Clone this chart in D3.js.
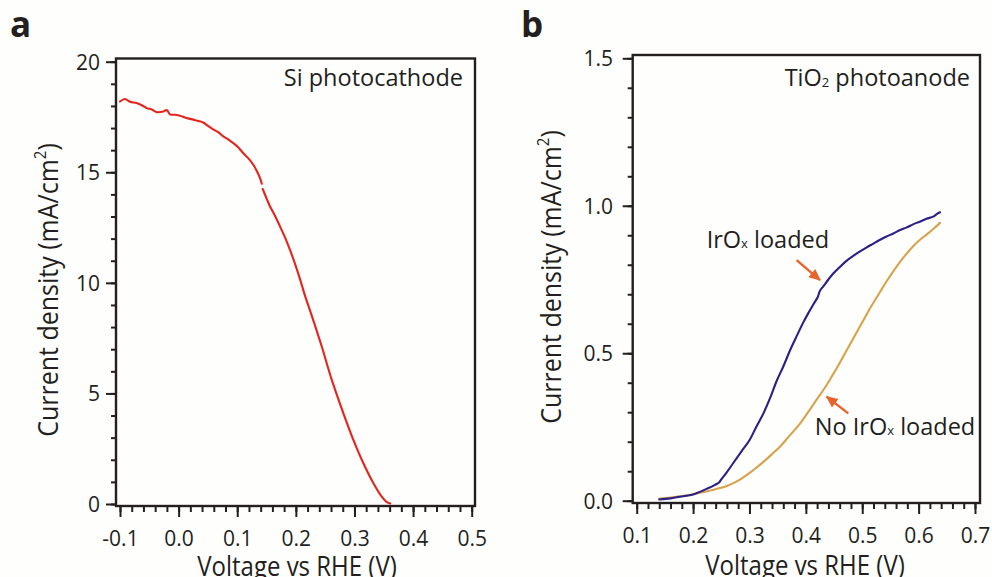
<!DOCTYPE html>
<html>
<head>
<meta charset="utf-8">
<script src="https://cdn.jsdelivr.net/npm/d3@7"></script>
<style>
  html, body { margin: 0; padding: 0; background: #fefefc; }
  svg { display: block; }
  text { font-family: "Open Sans", "Noto Sans", sans-serif; fill: #231f20; }
</style>
</head>
<body>
<svg id="chart" width="992" height="577"></svg>
<script>
// ---------------- DATA ----------------
// Panel a: Si photocathode, [voltage (V vs RHE), current density (mA/cm2)]; null = gap in trace
const siVoltage = [-0.100, -0.0915, -0.083, -0.0715, -0.062, -0.0544, -0.046, -0.0374, -0.026, -0.0203, -0.0147,
  -0.006, 0.0024, 0.012, 0.025, 0.034, 0.042, 0.050, 0.059, 0.068, 0.0763, 0.085, 0.0933, 0.102, 0.110, 0.119,
  0.1275, 0.134, 0.139, 0.1418, null, 0.1435, 0.150, 0.156, 0.165, 0.173, 0.182, 0.190, 0.197, 0.2072, 0.2157,
  0.2271, 0.2442, 0.2613, 0.2811, 0.2981, 0.3152, 0.3323, 0.3466, 0.3540, 0.3608];
const siCurrent = [18.20, 18.31, 18.19, 18.13, 18.02, 17.90, 17.84, 17.72, 17.75, 17.81, 17.62,
  17.60, 17.56, 17.47, 17.38, 17.32, 17.25, 17.10, 16.94, 16.80, 16.62, 16.48, 16.32, 16.12, 15.87, 15.63,
  15.34, 15.02, 14.72, 14.48, null, 14.24, 13.82, 13.45, 13.00, 12.55, 12.02, 11.49, 10.98, 10.16, 9.41,
  8.52, 7.12, 5.61, 4.10, 2.90, 1.84, 0.94, 0.33, 0.11, 0.02];

// Panel b: TiO2 photoanode
const irVoltage = [0.140, 0.160, 0.180, 0.200, 0.212, 0.225, 0.238, 0.246, 0.250, 0.260, 0.271, 0.285, 0.300,
  0.312, 0.325, 0.337, 0.348, 0.360, 0.372, 0.385, 0.395, 0.405, 0.414, 0.421, 0.425, 0.431, 0.440, 0.449,
  0.460, 0.472, 0.484, 0.496, 0.508, 0.519, 0.530, 0.542, 0.555, 0.567, 0.578, 0.590, 0.602, 0.614, 0.626,
  0.632, 0.638];
const irCurrent = [0.004, 0.008, 0.014, 0.021, 0.030, 0.041, 0.053, 0.062, 0.072, 0.097, 0.127, 0.165, 0.205,
  0.250, 0.297, 0.350, 0.405, 0.455, 0.510, 0.563, 0.603, 0.638, 0.668, 0.690, 0.712, 0.727, 0.750, 0.771,
  0.792, 0.813, 0.830, 0.845, 0.859, 0.871, 0.883, 0.895, 0.906, 0.918, 0.926, 0.937, 0.946, 0.956, 0.963,
  0.972, 0.978];

const noIrVoltage = [0.140, 0.160, 0.180, 0.200, 0.212, 0.225, 0.240, 0.260, 0.280, 0.307, 0.320, 0.340, 0.354,
  0.370, 0.390, 0.405, 0.420, 0.432, 0.445, 0.458, 0.470, 0.485, 0.500, 0.515, 0.531, 0.545, 0.560, 0.575,
  0.590, 0.602, 0.614, 0.626, 0.638];
const noIrCurrent = [0.007, 0.011, 0.016, 0.022, 0.027, 0.032, 0.039, 0.050, 0.068, 0.104, 0.124, 0.158, 0.183,
  0.218, 0.262, 0.303, 0.345, 0.378, 0.418, 0.460, 0.502, 0.553, 0.605, 0.656, 0.706, 0.749, 0.791, 0.829,
  0.862, 0.884, 0.902, 0.921, 0.942];

// Tick labels
const aXTicks = [-0.1, 0.0, 0.1, 0.2, 0.3, 0.4, 0.5];
const aYTicks = [0, 5, 10, 15, 20];
const bXTicks = [0.1, 0.2, 0.3, 0.4, 0.5, 0.6, 0.7];
const bYTicks = [0.0, 0.5, 1.0, 1.5];

// Text
const aTitle = "Si photocathode";
const xTitle = "Voltage vs RHE (V)";
const yTitleMain = "Current density (mA/cm";

// ---------------- DRAW ----------------
const svg = d3.select("#chart");
const ink = "#231f20";

function seriesPoints(xs, ys) {
  return xs.map((v, i) => (v === null ? null : [v, ys[i]]));
}

function drawPanel(cfg) {
  const g = svg.append("g");
  const x = d3.scaleLinear().domain(cfg.xDomain).range(cfg.xRange);
  const y = d3.scaleLinear().domain(cfg.yDomain).range(cfg.yRange);
  const box = cfg.box;

  const xMinor = d3.axisBottom(x).tickValues(cfg.xMinor).tickSize(6).tickFormat("");
  const xMajor = d3.axisBottom(x).tickValues(cfg.xTicks).tickSize(11).tickFormat(cfg.xFmt);
  const yMinor = d3.axisLeft(y).tickValues(cfg.yMinor).tickSize(5).tickFormat("");
  const yMajor = d3.axisLeft(y).tickValues(cfg.yTicks).tickSize(10).tickFormat(cfg.yFmt);

  [xMinor, xMajor].forEach((ax, k) => {
    const a = g.append("g").attr("transform", `translate(0,${box.bottom})`).call(ax);
    a.select(".domain").remove();
    a.selectAll("line").attr("stroke", ink).attr("stroke-width", 2);
    if (k === 1) {
      a.selectAll("text").attr("y", cfg.xLabelY - box.bottom).attr("dy", 0)
        .attr("font-size", 21).attr("fill", ink)
        .style("font-family", '"Open Sans", sans-serif');
    }
  });
  [yMinor, yMajor].forEach((ax, k) => {
    const a = g.append("g").attr("transform", `translate(${box.left},0)`).call(ax);
    a.select(".domain").remove();
    a.selectAll("line").attr("stroke", ink).attr("stroke-width", 2);
    if (k === 1) {
      a.selectAll("text").attr("x", cfg.yLabelX - box.left).attr("dy", "0.36em")
        .attr("font-size", 21).attr("fill", ink)
        .style("font-family", '"Open Sans", sans-serif');
    }
  });

  // frame
  g.append("rect")
    .attr("x", box.left).attr("y", box.top)
    .attr("width", box.right - box.left).attr("height", box.bottom - box.top)
    .attr("fill", "none").attr("stroke", ink).attr("stroke-width", 2.4);

  // series
  const line = d3.line().defined(d => d !== null).x(d => x(d[0])).y(d => y(d[1]))
    .curve(d3.curveCatmullRom.alpha(0.5));
  cfg.series.forEach(s => {
    g.append("path").datum(s.points)
      .attr("d", line).attr("fill", "none")
      .attr("stroke", s.color).attr("stroke-width", 2.1)
      .attr("stroke-linejoin", "round").attr("stroke-linecap", "round");
  });

  // x title (glyphs slightly taller than wide, as in the reference)
  g.append("text")
    .attr("transform", `translate(${cfg.xTitlePos[0]},${cfg.xTitlePos[1]}) scale(1,1.12)`)
    .attr("text-anchor", "middle").attr("font-size", 24).text(xTitle);

  // y title
  const yt = g.append("text")
    .attr("transform", `translate(${cfg.yTitlePos[0]},${cfg.yTitlePos[1]}) rotate(-90) scale(1,1.1)`)
    .attr("text-anchor", "middle").attr("font-size", 25);
  yt.append("tspan").text(yTitleMain);
  yt.append("tspan").attr("font-size", 15).attr("dy", -11).text("2");
  yt.append("tspan").attr("dy", 11).text(")");

  // panel letter
  g.append("text").attr("x", cfg.letterPos[0]).attr("y", cfg.letterPos[1])
    .attr("font-size", 35).attr("font-weight", 700).text(cfg.letter);

  return { g, x, y };
}

const fmtSigned = v => d3.format(".1f")(v).replace("\u2212", "-");

// Panel a
const pa = drawPanel({
  letter: "a", letterPos: [10, 37],
  box: { left: 116, right: 475, top: 58.5, bottom: 506 },
  xDomain: [-0.1, 0.5], xRange: [120, 471.7],
  yDomain: [0, 20], yRange: [504, 61.7],
  xTicks: aXTicks, xMinor: d3.range(-0.1, 0.5001, 0.02),
  yTicks: aYTicks, yMinor: d3.range(0, 20.001, 1),
  xFmt: fmtSigned, yFmt: d3.format("d"),
  xLabelY: 546, yLabelX: 100,
  xTitlePos: [297, 576], yTitlePos: [58, 290],
  series: [{ points: seriesPoints(siVoltage, siCurrent), color: "#e3251d" }]
});
pa.g.append("text").attr("x", 463).attr("y", 86).attr("text-anchor", "end")
  .attr("font-size", 23.5).text(aTitle);

// Panel b
const pb = drawPanel({
  letter: "b", letterPos: [521, 37],
  box: { left: 632.7, right: 980, top: 55, bottom: 503 },
  xDomain: [0.1, 0.7], xRange: [636.7, 975],
  yDomain: [0, 1.5], yRange: [500.7, 58.3],
  xTicks: bXTicks, xMinor: d3.range(0.1, 0.7001, 0.02),
  yTicks: bYTicks, yMinor: d3.range(0, 1.5001, 0.1),
  xFmt: d3.format(".1f"), yFmt: d3.format(".1f"),
  xLabelY: 543, yLabelX: 613,
  xTitlePos: [805, 575], yTitlePos: [561, 277],
  series: [
    { points: seriesPoints(noIrVoltage, noIrCurrent), color: "#d6a34c" },
    { points: seriesPoints(irVoltage, irCurrent), color: "#2b1f86" }
  ]
});

// panel b title with subscript
const tb = pb.g.append("text").attr("x", 970).attr("y", 86).attr("text-anchor", "end").attr("font-size", 23.5);
tb.append("tspan").text("TiO");
tb.append("tspan").attr("font-size", 13).attr("dy", 1).text("2");
tb.append("tspan").attr("dy", -1).text(" photoanode");

// annotations (positioned in data space)
const arrowColor = "#e8642d";
svg.append("defs").append("marker")
  .attr("id", "ah").attr("viewBox", "0 0 10 10").attr("refX", 9).attr("refY", 5)
  .attr("markerWidth", 5).attr("markerHeight", 5).attr("orient", "auto")
  .append("path").attr("d", "M0,0.5 L10,5 L0,9.5 z").attr("fill", arrowColor);

const annotations = [
  { label: ["IrO", "x", " loaded"], at: [0.2241, 0.856], tail: [0.3837, 0.816], tip: [0.425, 0.748] },
  { label: ["No IrO", "x", " loaded"], at: [0.416, 0.222], tail: [0.4752, 0.296], tip: [0.437, 0.3525] }
];
annotations.forEach(a => {
  const t = pb.g.append("text").attr("x", pb.x(a.at[0])).attr("y", pb.y(a.at[1])).attr("font-size", 23.5);
  t.append("tspan").text(a.label[0]);
  t.append("tspan").attr("font-size", 13).text(a.label[1]);
  t.append("tspan").text(a.label[2]);
  pb.g.append("line")
    .attr("x1", pb.x(a.tail[0])).attr("y1", pb.y(a.tail[1]))
    .attr("x2", pb.x(a.tip[0])).attr("y2", pb.y(a.tip[1]))
    .attr("stroke", arrowColor).attr("stroke-width", 2.4)
    .attr("marker-end", "url(#ah)");
});
</script>
</body>
</html>
